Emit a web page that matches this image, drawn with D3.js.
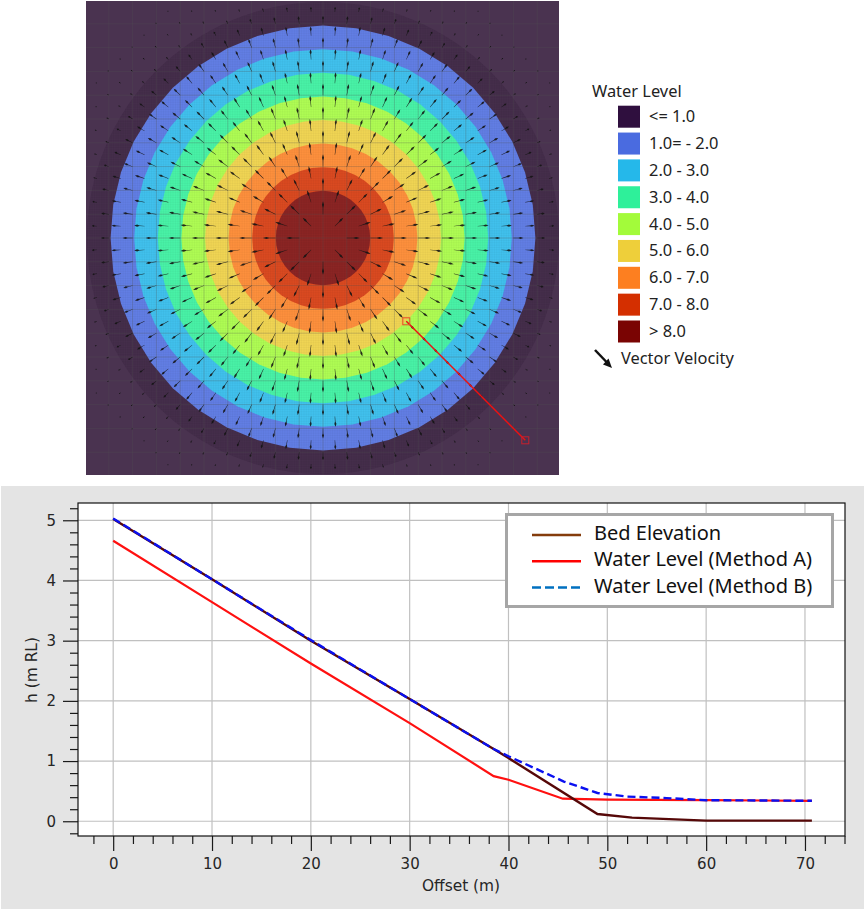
<!DOCTYPE html>
<html>
<head>
<meta charset="utf-8">
<script src="https://cdn.jsdelivr.net/npm/d3@7"></script>
<style>
  html, body { margin: 0; padding: 0; background: #fff; }
  svg { display: block; }
</style>
</head>
<body>
<svg id="chart" width="866" height="913"></svg>
<script>
// water level bands: outer radius of each band on the map (m from the centre)
const bandRadii = [90, 80, 70, 60, 50, 40, 30, 20];
const bandColors = ["#4a6be0", "#25b8ea", "#2ef09a", "#a3fb3a", "#eecf3a", "#fd7f20", "#d42f00", "#7a0403"];
const domeRadius = 100;

const legendLabels = ["<= 1.0", "1.0= - 2.0", "2.0 - 3.0", "3.0 - 4.0", "4.0 - 5.0", "5.0 - 6.0", "6.0 - 7.0", "7.0 - 8.0", "> 8.0"];
const legendColors = ["#2f0f3e", "#4a6be0", "#25b8ea", "#2ef09a", "#a3fb3a", "#eecf3a", "#fd7f20", "#d42f00", "#7a0403"];

const speedRadii = [0, 10, 20, 50, 80, 89, 95, 100, 110, 120];
const speedLengths = [9, 13, 12.5, 12, 10, 8.5, 5, 3, 1.5, 1];

// section line on the map (m)
const sectionStart = [35, -35];
const sectionEnd = [85, -85];

// profile along the section
const bedOffset = [0, 10, 20, 30, 38.5, 40, 49, 52.5, 60, 70.7];
const bedLevel = [5.02, 4.02, 3.0, 2.03, 1.2, 1.05, 0.12, 0.06, 0.01, 0.01];
const methodAOffset = [0, 10, 20, 30, 38.5, 40, 45.5, 50, 60, 70.7];
const methodALevel = [4.66, 3.64, 2.62, 1.63, 0.75, 0.69, 0.375, 0.36, 0.35, 0.34];
const methodBOffset = [0, 10, 20, 30, 38.5, 40, 45.6, 49, 52, 56, 60, 70.7];
const methodBLevel = [5.03, 4.02, 3.01, 2.03, 1.2, 1.08, 0.66, 0.47, 0.41, 0.385, 0.35, 0.34];

const xMajor = [0, 10, 20, 30, 40, 50, 60, 70];
const xMinor = [-2, 2, 4, 6, 8, 12, 14, 16, 18, 22, 24, 26, 28, 32, 34, 36, 38, 42, 44, 46, 48, 52, 54, 56, 58, 62, 64, 66, 68, 72, 74];
const yMajor = [0, 1, 2, 3, 4, 5];
const yMinor = d3.range(-2, 53, 2).filter((d) => d % 10 !== 0).map((d) => d / 10);

const profileLegend = ["Bed Elevation", "Water Level (Method A)", "Water Level (Method B)"];
const profileLegendColors = ["#843c0c", "#ff0000", "#0070c0"];

const svg = d3.select("#chart");

// ---------- map ----------
const mapBox = { left: 86, right: 559, top: 1, bottom: 475 };
const mapX = d3.scaleLinear().domain([-100, 100]).range([85, 561]);
const mapY = d3.scaleLinear().domain([-100, 100]).range([476, 0]);
const mapR = d3.scaleLinear().domain([0, 100]).range([0, 236]);
const cx = mapX(0);
const cy = mapY(0);

const defs = svg.append("defs");
defs.append("clipPath").attr("id", "mapClip").append("rect")
  .attr("x", mapBox.left).attr("y", mapBox.top)
  .attr("width", mapBox.right - mapBox.left).attr("height", mapBox.bottom - mapBox.top);
defs.append("clipPath").attr("id", "domeClip").append("circle")
  .attr("cx", cx).attr("cy", cy).attr("r", mapR(domeRadius));

const map = svg.append("g").attr("clip-path", "url(#mapClip)");

map.append("rect")
  .attr("x", mapBox.left).attr("y", mapBox.top)
  .attr("width", mapBox.right - mapBox.left).attr("height", mapBox.bottom - mapBox.top)
  .attr("fill", "#4a3350");

// darker disc where the fine mesh is dense
map.append("circle").attr("cx", cx).attr("cy", cy).attr("r", mapR(domeRadius)).attr("fill", "#452e4b");

// the map layer is washed out, so the bands are paler than the legend swatches
const washOut = (c) => d3.interpolateRgb(c, "#fff")(0.13);

// the mesh is coarse so the bands come out as polygons, not true circles
const meshAngles = d3.range(0, 2 * Math.PI, Math.PI / 20);
bandRadii.forEach((r, i) => {
  const ring = d3.lineRadial().angle((a) => a).radius(mapR(r)).curve(d3.curveLinearClosed);
  map.append("path")
    .attr("transform", `translate(${cx},${cy})`)
    .attr("d", ring(meshAngles))
    .attr("fill", washOut(bandColors[i]));
});

// fine mesh, only visible inside the dome
const fine = map.append("g").attr("clip-path", "url(#domeClip)")
  .attr("stroke", "#000").attr("stroke-opacity", 0.05).attr("stroke-width", 0.6);
d3.range(-100, 101, 1).forEach((m) => {
  fine.append("line").attr("x1", mapX(m)).attr("x2", mapX(m)).attr("y1", mapY(-100)).attr("y2", mapY(100));
  fine.append("line").attr("y1", mapY(m)).attr("y2", mapY(m)).attr("x1", mapX(-100)).attr("x2", mapX(100));
});

// 10 m grid over the surface
const coarse = map.append("g").attr("stroke", "#555").attr("stroke-opacity", 0.26).attr("stroke-width", 1);
d3.range(-100, 101, 10).forEach((m) => {
  coarse.append("line").attr("x1", mapX(m)).attr("x2", mapX(m)).attr("y1", mapY(-100)).attr("y2", mapY(100));
  coarse.append("line").attr("y1", mapY(m)).attr("y2", mapY(m)).attr("x1", mapX(-100)).attr("x2", mapX(100));
});

// velocity arrows: staggered 5 m lattice, pointing away from the centre
const arrowLength = d3.scaleLinear().domain(speedRadii).range(speedLengths).clamp(true);
const arrows = map.append("g").attr("fill", "#141414").attr("fill-opacity", 0.9);
d3.range(-100, 101, 5).forEach((ym) => {
  d3.range(-100, 101, 10).forEach((xm) => {
    const xNode = Math.abs(ym) % 10 === 5 ? xm + 5 : xm;
    const r = Math.hypot(xNode, ym);
    if (r === 0 || r > 120) return;
    const len = arrowLength(r);
    const angle = Math.atan2(-ym, xNode) * 180 / Math.PI;
    const wide = len > 4 ? 1.05 : 0.7;
    arrows.append("path")
      .attr("transform", `translate(${mapX(xNode)},${mapY(ym)}) rotate(${angle})`)
      .attr("d", `M0,-0.2L${len * 0.5},-0.3L${len * 0.72},${-wide}L${len},0L${len * 0.72},${wide}L${len * 0.5},0.3L0,0.2Z`);
  });
});

// section line
map.append("line")
  .attr("x1", mapX(sectionStart[0])).attr("y1", mapY(sectionStart[1]))
  .attr("x2", mapX(sectionEnd[0])).attr("y2", mapY(sectionEnd[1]))
  .attr("stroke", "#f01010").attr("stroke-width", 1.4);
[sectionStart, sectionEnd].forEach((p, i) => {
  map.append("rect")
    .attr("x", mapX(p[0]) - 3.5).attr("y", mapY(p[1]) - 3.5)
    .attr("width", 7).attr("height", 7)
    .attr("fill", "none")
    .attr("stroke", i === 0 ? "#ea4a28" : "#c8202c").attr("stroke-width", 1);
});

// ---------- map legend ----------
const legendFont = "'Noto Sans', 'Open Sans', sans-serif";
svg.append("text").attr("x", 592).attr("y", 97)
  .attr("font-family", legendFont).attr("font-size", 16.4).attr("fill", "#222")
  .text("Water Level");
const legendY = d3.scalePoint().domain(legendLabels).range([116.7, 331.5]);
legendLabels.forEach((label, i) => {
  svg.append("rect")
    .attr("x", 618).attr("y", legendY(label) - 11)
    .attr("width", 22).attr("height", 22)
    .attr("fill", legendColors[i]);
  svg.append("text")
    .attr("x", 649).attr("y", legendY(label) + 5.5)
    .attr("font-family", legendFont).attr("font-size", 16.4).attr("fill", "#222")
    .text(label);
});
svg.append("line")
  .attr("x1", 595).attr("y1", 350).attr("x2", 607).attr("y2", 362.5)
  .attr("stroke", "#111").attr("stroke-width", 2.5);
svg.append("path").attr("d", "M612,368L603,364.5L608.5,358.5Z").attr("fill", "#111");
svg.append("text").attr("x", 621).attr("y", 364)
  .attr("font-family", legendFont).attr("font-size", 16.4).attr("fill", "#222")
  .text("Vector Velocity");

// ---------- profile ----------
svg.append("rect").attr("x", 1).attr("y", 486).attr("width", 863).attr("height", 423).attr("fill", "#e4e4e4");

const plot = { left: 78, right: 845, top: 503, bottom: 836 };
const x = d3.scaleLinear().domain([-3.56, 74.05]).range([plot.left, plot.right]);
const y = d3.scaleLinear().domain([-0.245, 5.287]).range([plot.bottom, plot.top]);

svg.append("rect")
  .attr("x", plot.left).attr("y", plot.top)
  .attr("width", plot.right - plot.left).attr("height", plot.bottom - plot.top)
  .attr("fill", "#fff");

// grid
svg.append("g").attr("stroke", "#c0c0c0").attr("stroke-width", 1.2)
  .selectAll("line").data(xMajor).join("line")
  .attr("x1", (d) => x(d)).attr("x2", (d) => x(d))
  .attr("y1", plot.top).attr("y2", plot.bottom);
svg.append("g").attr("stroke", "#c0c0c0").attr("stroke-width", 1.2)
  .selectAll("line").data(yMajor).join("line")
  .attr("y1", (d) => y(d)).attr("y2", (d) => y(d))
  .attr("x1", plot.left).attr("x2", plot.right);

// axes, major and minor ticks separately
function styleAxis(g) {
  g.attr("font-family", "'DejaVu Sans', sans-serif").attr("font-size", 15);
  g.selectAll("text").attr("fill", "#262626");
  g.selectAll("line").attr("stroke", "#1a1a1a").attr("stroke-width", 1.2);
  g.select(".domain").remove();
}
svg.append("g").attr("transform", `translate(0,${plot.bottom})`)
  .call(d3.axisBottom(x).tickValues(xMinor).tickSize(8).tickFormat(""))
  .call(styleAxis);
svg.append("g").attr("transform", `translate(0,${plot.bottom})`)
  .call(d3.axisBottom(x).tickValues(xMajor).tickSize(15).tickPadding(7).tickFormat(d3.format("d")))
  .call(styleAxis);
svg.append("g").attr("transform", `translate(${plot.left},0)`)
  .call(d3.axisLeft(y).tickValues(yMinor).tickSize(8).tickFormat(""))
  .call(styleAxis);
svg.append("g").attr("transform", `translate(${plot.left},0)`)
  .call(d3.axisLeft(y).tickValues(yMajor).tickSize(15).tickPadding(7).tickFormat(d3.format("d")))
  .call(styleAxis);

svg.append("text").attr("x", 461).attr("y", 891).attr("text-anchor", "middle")
  .attr("font-family", "'DejaVu Sans', sans-serif").attr("font-size", 15.4).attr("fill", "#262626")
  .text("Offset (m)");
svg.append("text")
  .attr("transform", `translate(37,670) rotate(-90)`).attr("text-anchor", "middle")
  .attr("font-family", "'DejaVu Sans', sans-serif").attr("font-size", 15.4).attr("fill", "#262626")
  .text("h (m RL)");

// lines
const profileLine = d3.line().x((d) => x(d[0])).y((d) => y(d[1]));
svg.append("path").datum(d3.zip(methodAOffset, methodALevel))
  .attr("d", profileLine).attr("fill", "none").attr("stroke", "#ff1010").attr("stroke-width", 2.2);
svg.append("path").datum(d3.zip(bedOffset, bedLevel))
  .attr("d", profileLine).attr("fill", "none").attr("stroke", "#560808").attr("stroke-width", 2.4);
svg.append("path").datum(d3.zip(methodBOffset, methodBLevel))
  .attr("d", profileLine).attr("fill", "none").attr("stroke", "#0a10f0").attr("stroke-width", 2.4)
  .attr("stroke-dasharray", "8,4");

svg.append("rect")
  .attr("x", plot.left).attr("y", plot.top)
  .attr("width", plot.right - plot.left).attr("height", plot.bottom - plot.top)
  .attr("fill", "none").attr("stroke", "#111").attr("stroke-width", 1.2);

// profile legend
svg.append("rect")
  .attr("x", 506.5).attr("y", 514.5).attr("width", 326).attr("height", 92)
  .attr("fill", "#fff").attr("stroke", "#a6a6a6").attr("stroke-width", 3);
const profileLegendY = d3.scalePoint().domain(profileLegend).range([533.5, 586]);
profileLegend.forEach((label, i) => {
  const ly = profileLegendY(label);
  svg.append("line")
    .attr("x1", 532).attr("x2", 581).attr("y1", ly + 1.5).attr("y2", ly + 1.5)
    .attr("stroke", profileLegendColors[i]).attr("stroke-width", 2.4)
    .attr("stroke-dasharray", i === 2 ? "9,4" : null);
  svg.append("text")
    .attr("x", 594).attr("y", ly + 6.5)
    .attr("font-family", legendFont).attr("font-size", 20).attr("fill", "#111")
    .text(label);
});
</script>
</body>
</html>
